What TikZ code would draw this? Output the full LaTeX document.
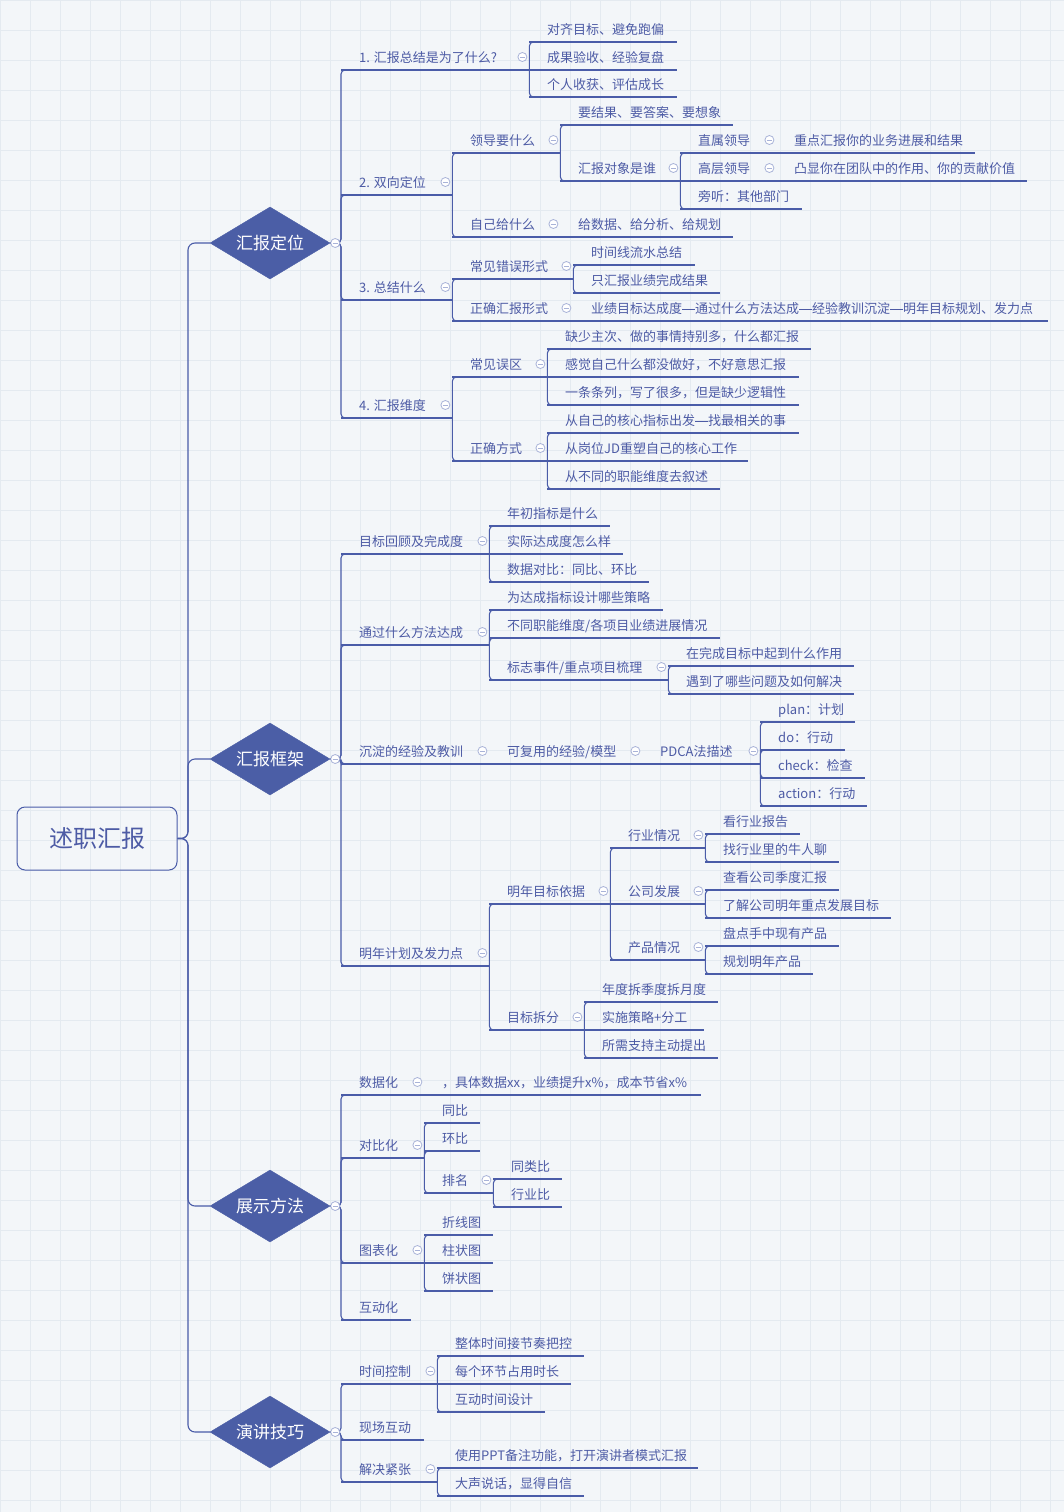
\documentclass[tikz,border=0pt]{standalone}
\usepackage{fontspec}
\setmainfont{Noto Sans CJK SC}
\usetikzlibrary{shapes.geometric,calc}
\definecolor{lc}{HTML}{4A5CA8}
\definecolor{tc}{HTML}{4D5BA5}
\definecolor{dfill}{HTML}{4B5EA6}
\definecolor{bgc}{HTML}{F3F6F9}
\definecolor{gridc}{HTML}{E4EAF0}
\definecolor{foldc}{HTML}{A9B3D8}
\newcommand\cjkdash{\rule[4.3pt]{13pt}{0.75pt}}
\newcommand\mmnode[5]{%
  \node[topic] (#1) at (#2,#3) {\makebox[\dimexpr #4pt-#2pt\relax][l]{\hspace*{18pt}#5}};
  \draw[uline] (#1.south west) -- (#1.south east);}
\newcommand\conn[2]{\draw[conn] (#1.south east) |- ([xshift=6pt]#2.south west);}
\newcommand\connh[2]{\draw[conn] (#1.south east) -- ([xshift=6pt]#2.south west);}
\newcommand\sconn[2]{\draw[conn] (#1.east) -- (#1.east -| #2.south west) |- ([xshift=6pt]#2.south west);}
\newcommand\foldon[1]{\pic at ($(#1.south east)+(-7,-13)$) {foldpic};}
\begin{document}
\begin{tikzpicture}[x=1pt,y=-1pt,
  topic/.style={anchor=south west,inner xsep=0pt,inner ysep=5pt,text height=11pt,text depth=2pt,
    text=tc,font=\fontsize{13pt}{15pt}\selectfont},
  uline/.style={draw=lc,line width=1.1pt},
  conn/.style={draw=lc,line width=1.1pt,rounded corners=4pt},
  rconn/.style={draw=lc,line width=1.1pt,rounded corners=7pt},
  sect/.style={diamond,aspect=1.67,fill=dfill,draw=dfill,text=white,inner sep=0pt,
    minimum width=120pt,minimum height=72pt,font=\fontsize{17pt}{20pt}\selectfont},
  rootbox/.style={draw=lc,line width=1pt,rounded corners=8pt,minimum width=160pt,
    minimum height=63pt,text=tc,font=\fontsize{24pt}{28pt}\selectfont},
  foldpic/.pic={\draw[foldc,fill=white,line width=0.8pt] (0,0) circle (4.5pt);
    \draw[foldc,line width=0.9pt] (-2.5pt,0) -- (2.5pt,0);}
]
\useasboundingbox (0,0) rectangle (1064,1512);
\fill[bgc] (0,0) rectangle (1064,1512);
\draw[gridc,line width=0.6pt,step=30pt] (0,1512) grid (1064,0);

% root and sections
\node[rootbox] (root) at (97,838.5) {述职汇报};
\coordinate (rj) at (188,838.5);
\node[sect] (s1) at (270,243) {汇报定位};
\node[sect] (s2) at (270,759) {汇报框架};
\node[sect] (s3) at (270,1206) {展示方法};
\node[sect] (s4) at (270,1432) {演讲技巧};
\foreach \s in {s1,s2,s3,s4}{\draw[rconn] (root.east) -- (root.east -| rj) |- (\s.west);}

% ---- section 1
\mmnode{a1}{341}{70}{529}{1. 汇报总结是为了什么?}
\mmnode{a11}{529}{42}{677}{对齐目标、避免跑偏}
\mmnode{a12}{529}{70}{677}{成果验收、经验复盘}
\mmnode{a13}{529}{97}{677}{个人收获、评估成长}
\mmnode{a2}{341}{195}{452}{2. 双向定位}
\mmnode{a21}{452}{153}{560}{领导要什么}
\mmnode{a211}{560}{125}{733}{要结果、要答案、要想象}
\mmnode{a212}{560}{181}{680}{汇报对象是谁}
\mmnode{a2121}{680}{153}{776}{直属领导}
\mmnode{a21211}{776}{153}{975}{重点汇报你的业务进展和结果}
\mmnode{a2122}{680}{181}{776}{高层领导}
\mmnode{a21221}{776}{181}{1027}{凸显你在团队中的作用、你的贡献价值}
\mmnode{a2123}{680}{209}{802}{旁听：其他部门}
\mmnode{a22}{452}{237}{560}{自己给什么}
\mmnode{a221}{560}{237}{733}{给数据、给分析、给规划}
\mmnode{a3}{341}{300}{452}{3. 总结什么}
\mmnode{a31}{452}{279}{573}{常见错误形式}
\mmnode{a311}{573}{265}{695}{时间线流水总结}
\mmnode{a312}{573}{293}{720}{只汇报业绩完成结果}
\mmnode{a32}{452}{321}{573}{正确汇报形式}
\mmnode{a321}{573}{321}{1048}{业绩目标达成度\cjkdash 通过什么方法达成\cjkdash 经验教训沉淀\cjkdash 明年目标规划、发力点}
\mmnode{a4}{341}{418}{452}{4. 汇报维度}
\mmnode{a41}{452}{377}{547}{常见误区}
\mmnode{a411}{547}{349}{811}{缺少主次、做的事情持别多，什么都汇报}
\mmnode{a412}{547}{377}{799}{感觉自己什么都没做好，不好意思汇报}
\mmnode{a413}{547}{405}{799}{一条条列，写了很多，但是缺少逻辑性}
\mmnode{a42}{452}{461}{547}{正确方式}
\mmnode{a421}{547}{433}{799}{从自己的核心指标出发\cjkdash 找最相关的事}
\mmnode{a422}{547}{461}{748}{从岗位JD重塑自己的核心工作}
\mmnode{a423}{547}{489}{720}{从不同的职能维度去叙述}

\sconn{s1}{a1}\sconn{s1}{a2}\sconn{s1}{a3}\sconn{s1}{a4}
\conn{a1}{a11}\connh{a1}{a12}\conn{a1}{a13}
\conn{a2}{a21}\conn{a2}{a22}
\conn{a21}{a211}\conn{a21}{a212}
\conn{a212}{a2121}\connh{a212}{a2122}\conn{a212}{a2123}
\connh{a2121}{a21211}\connh{a2122}{a21221}\connh{a22}{a221}
\conn{a3}{a31}\conn{a3}{a32}
\conn{a31}{a311}\conn{a31}{a312}\connh{a32}{a321}
\conn{a4}{a41}\conn{a4}{a42}
\conn{a41}{a411}\connh{a41}{a412}\conn{a41}{a413}
\conn{a42}{a421}\connh{a42}{a422}\conn{a42}{a423}

% ---- section 2
\mmnode{b1}{341}{554}{489}{目标回顾及完成度}
\mmnode{b11}{489}{526}{610}{年初指标是什么}
\mmnode{b12}{489}{554}{623}{实际达成度怎么样}
\mmnode{b13}{489}{582}{649}{数据对比：同比、环比}
\mmnode{b2}{341}{645}{489}{通过什么方法达成}
\mmnode{b21}{489}{610}{663}{为达成指标设计哪些策略}
\mmnode{b22}{489}{638}{720}{不同职能维度/各项目业绩进展情况}
\mmnode{b23}{489}{680}{668}{标志事件/重点项目梳理}
\mmnode{b231}{668}{666}{854}{在完成目标中起到什么作用}
\mmnode{b232}{668}{694}{854}{遇到了哪些问题及如何解决}
\mmnode{b3}{341}{764}{489}{沉淀的经验及教训}
\mmnode{b31}{489}{764}{642}{可复用的经验/模型}
\mmnode{b311}{642}{764}{760}{PDCA法描述}
\mmnode{b3111}{760}{722}{855}{plan：计划}
\mmnode{b3112}{760}{750}{845}{do：行动}
\mmnode{b3113}{760}{778}{865}{check：检查}
\mmnode{b3114}{760}{806}{867}{action：行动}
\mmnode{b4}{341}{966}{489}{明年计划及发力点}
\mmnode{b41}{489}{904}{610}{明年目标依据}
\mmnode{b411}{610}{848}{705}{行业情况}
\mmnode{b4111}{705}{834}{800}{看行业报告}
\mmnode{b4112}{705}{862}{839}{找行业里的牛人聊}
\mmnode{b412}{610}{904}{705}{公司发展}
\mmnode{b4121}{705}{890}{839}{查看公司季度汇报}
\mmnode{b4122}{705}{918}{891}{了解公司明年重点发展目标}
\mmnode{b413}{610}{960}{705}{产品情况}
\mmnode{b4131}{705}{946}{839}{盘点手中现有产品}
\mmnode{b4132}{705}{974}{813}{规划明年产品}
\mmnode{b42}{489}{1030}{584}{目标拆分}
\mmnode{b421}{584}{1002}{718}{年度拆季度拆月度}
\mmnode{b422}{584}{1030}{704}{实施策略+分工}
\mmnode{b423}{584}{1058}{718}{所需支持主动提出}

\sconn{s2}{b1}\sconn{s2}{b2}\sconn{s2}{b3}\sconn{s2}{b4}
\conn{b1}{b11}\connh{b1}{b12}\conn{b1}{b13}
\conn{b2}{b21}\conn{b2}{b22}\conn{b2}{b23}
\conn{b23}{b231}\conn{b23}{b232}
\connh{b3}{b31}\connh{b31}{b311}
\conn{b311}{b3111}\conn{b311}{b3112}\conn{b311}{b3113}\conn{b311}{b3114}
\conn{b4}{b41}\conn{b4}{b42}
\conn{b41}{b411}\connh{b41}{b412}\conn{b41}{b413}
\conn{b411}{b4111}\conn{b411}{b4112}
\conn{b412}{b4121}\conn{b412}{b4122}
\conn{b413}{b4131}\conn{b413}{b4132}
\conn{b42}{b421}\connh{b42}{b422}\conn{b42}{b423}

% ---- section 3
\mmnode{c1}{341}{1095}{424}{数据化}
\mmnode{c11}{424}{1095}{701}{，具体数据xx，业绩提升x\%，成本节省x\%}
\mmnode{c2}{341}{1158}{424}{对比化}
\mmnode{c21}{424}{1123}{480}{同比}
\mmnode{c22}{424}{1151}{480}{环比}
\mmnode{c23}{424}{1193}{493}{排名}
\mmnode{c231}{493}{1179}{562}{同类比}
\mmnode{c232}{493}{1207}{562}{行业比}
\mmnode{c3}{341}{1263}{424}{图表化}
\mmnode{c31}{424}{1235}{493}{折线图}
\mmnode{c32}{424}{1263}{493}{柱状图}
\mmnode{c33}{424}{1291}{493}{饼状图}
\mmnode{c4}{341}{1320}{411}{互动化}

\sconn{s3}{c1}\sconn{s3}{c2}\sconn{s3}{c3}\sconn{s3}{c4}
\connh{c1}{c11}
\conn{c2}{c21}\conn{c2}{c22}\conn{c2}{c23}
\conn{c23}{c231}\conn{c23}{c232}
\conn{c3}{c31}\connh{c3}{c32}\conn{c3}{c33}

% ---- section 4
\mmnode{d1}{341}{1384}{437}{时间控制}
\mmnode{d11}{437}{1356}{584}{整体时间接节奏把控}
\mmnode{d12}{437}{1384}{571}{每个环节占用时长}
\mmnode{d13}{437}{1412}{545}{互动时间设计}
\mmnode{d2}{341}{1440}{424}{现场互动}
\mmnode{d3}{341}{1482}{437}{解决紧张}
\mmnode{d31}{437}{1468}{698}{使用PPT备注功能，打开演讲者模式汇报}
\mmnode{d32}{437}{1496}{584}{大声说话，显得自信}

\sconn{s4}{d1}\sconn{s4}{d2}\sconn{s4}{d3}
\conn{d1}{d11}\connh{d1}{d12}\conn{d1}{d13}
\conn{d3}{d31}\conn{d3}{d32}

% fold markers
\foreach \s in {s1,s2,s3,s4}{\pic at ($(\s.east)+(5,0)$) {foldpic};}
\foreach \n in {a1,a2,a21,a212,a2121,a2122,a22,a3,a31,a32,a4,a41,a42,
  b1,b2,b23,b3,b31,b311,b4,b41,b411,b412,b413,b42,c1,c2,c23,c3,d1,d3}{\foldon{\n}}
\end{tikzpicture}
\end{document}
